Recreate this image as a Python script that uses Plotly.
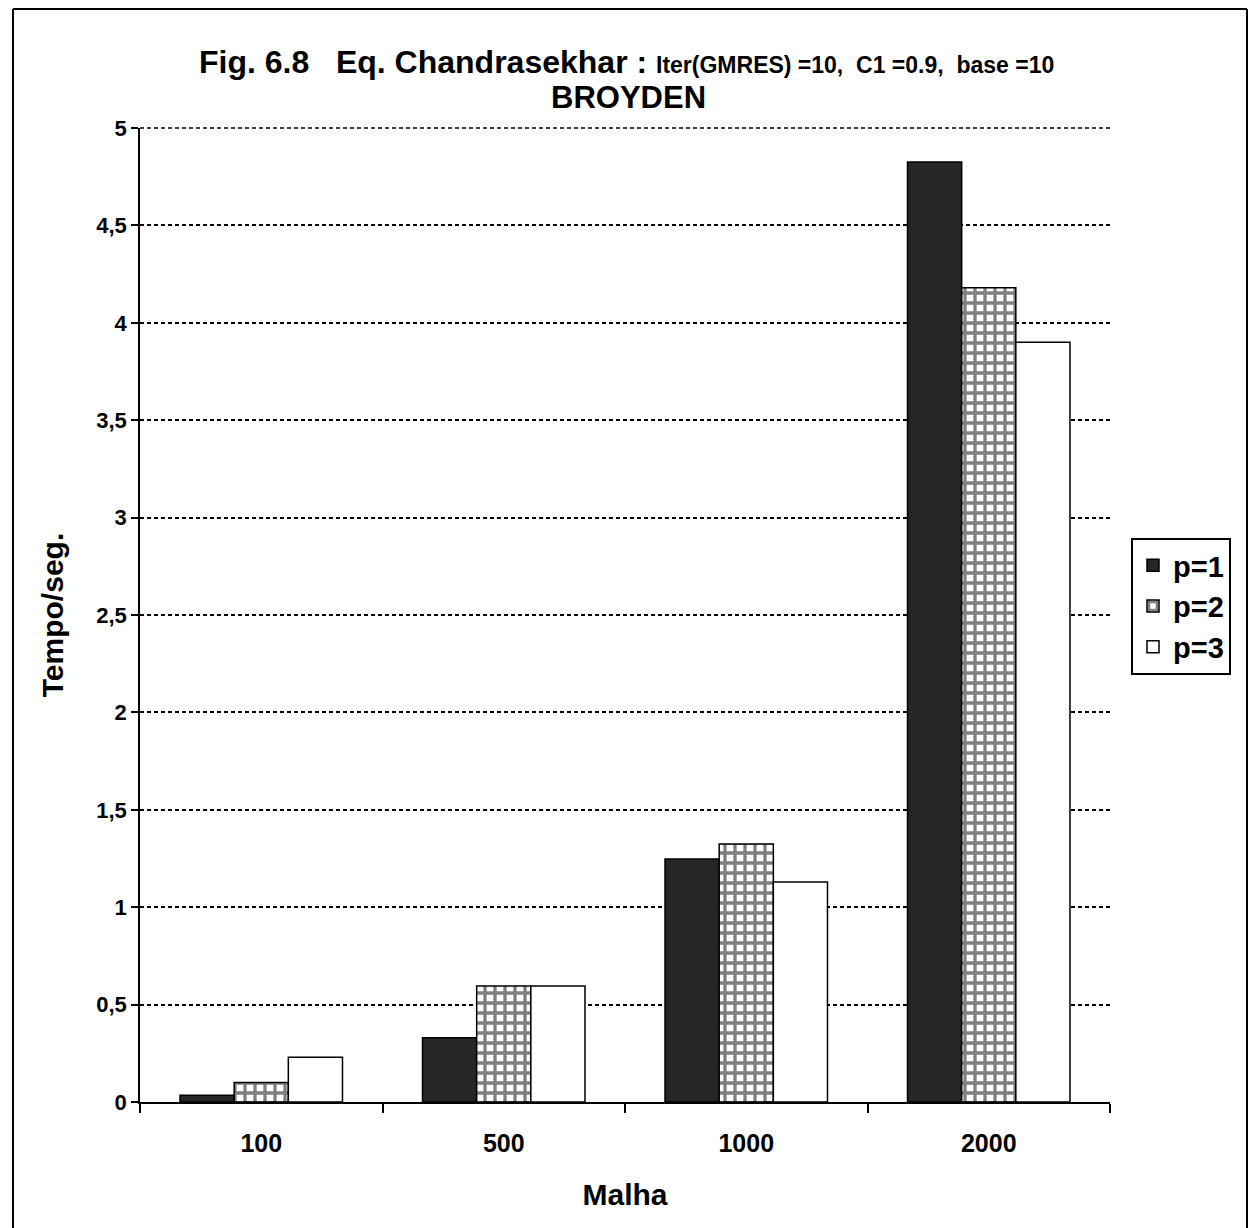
import plotly.graph_objects as go

# Malha sizes and solve times (seconds) for each p
malha = ["100", "500", "1000", "2000"]
p1_vals = [0.035, 0.33, 1.247, 4.825]
p2_vals = [0.10, 0.595, 1.325, 4.18]
p3_vals = [0.23, 0.595, 1.13, 3.90]

FONT = "Liberation Sans, Arial, sans-serif"

fig = go.Figure()
fig.add_trace(go.Bar(
    name="p=1", x=malha, y=p1_vals,
    marker=dict(color="#262626", line=dict(color="black", width=1.5)),
))
fig.add_trace(go.Bar(
    name="p=2", x=malha, y=p2_vals,
    marker=dict(color="white", line=dict(color="black", width=1.5),
                pattern=dict(shape="+", fgcolor="black", bgcolor="white",
                             size=10, solidity=0.55)),
))
fig.add_trace(go.Bar(
    name="p=3", x=malha, y=p3_vals,
    marker=dict(color="white", line=dict(color="black", width=1.5)),
))

# dashed gridline along the top of the value axis
fig.add_shape(type="line", xref="paper", yref="paper", x0=0, x1=1, y0=1, y1=1,
              line=dict(color="black", width=1.5, dash="4px,3px"), layer="below")

# outer frame (left, top, right sides)
fx0, fx1, fy1, fy0 = (13 - 140) / 970, (1247 - 140) / 970, (1102 - 9) / 974, -0.2
for x0, y0, x1, y1 in [(fx0, fy0, fx0, fy1), (fx0, fy1, fx1, fy1), (fx1, fy1, fx1, fy0)]:
    fig.add_shape(type="line", xref="paper", yref="paper", x0=x0, y0=y0, x1=x1, y1=y1,
                  line=dict(color="black", width=2))

fig.add_annotation(
    xref="paper", yref="paper", x=(626 - 140) / 970, y=(1102 - 62) / 974,
    text="<b>Fig. 6.8   Eq. Chandrasekhar : </b><b><span style='font-size:23px'>Iter(GMRES) =10,  C1 =0.9,  base =10</span></b>",
    showarrow=False, font=dict(family=FONT, size=32, color="black"), yanchor="middle",
)
fig.add_annotation(
    xref="paper", yref="paper", x=(628 - 140) / 970, y=(1102 - 98) / 974,
    text="<b>BROYDEN</b>", showarrow=False,
    font=dict(family=FONT, size=31, color="black"), yanchor="middle",
)

fig.update_layout(
    width=1252, height=1228,
    margin=dict(l=140, r=142, t=128, b=126),
    paper_bgcolor="white", plot_bgcolor="white",
    barmode="group", bargap=0.33, bargroupgap=0,
    separators=", ",
    font=dict(family=FONT, color="black"),
    legend=dict(
        x=(1131 - 140) / 970, y=(1102 - 538) / 974, xanchor="left", yanchor="top",
        bordercolor="black", borderwidth=2, bgcolor="white",
        font=dict(family=FONT, size=29, color="black", weight="bold"),
    ),
    xaxis=dict(
        type="category", tickson="boundaries", ticks="outside", ticklen=9,
        tickwidth=1.5, tickcolor="black", ticklabelstandoff=18,
        showline=True, linecolor="black", linewidth=1.5,
        tickfont=dict(family=FONT, size=25, weight="bold"),
        title=dict(text="<b>Malha</b>", font=dict(family=FONT, size=30), standoff=28),
    ),
    yaxis=dict(
        range=[0, 5], dtick=0.5, ticks="outside", ticklen=7, tickwidth=1.5,
        tickcolor="black", showline=True, linecolor="black", linewidth=1.5,
        showgrid=True, gridcolor="black", gridwidth=1.5, griddash="4px,3px",
        zeroline=False,
        tickfont=dict(family=FONT, size=22, weight="bold"),
        title=dict(text="<b>Tempo/seg.</b>", font=dict(family=FONT, size=30), standoff=24),
    ),
)

fig.write_html("out.html")
